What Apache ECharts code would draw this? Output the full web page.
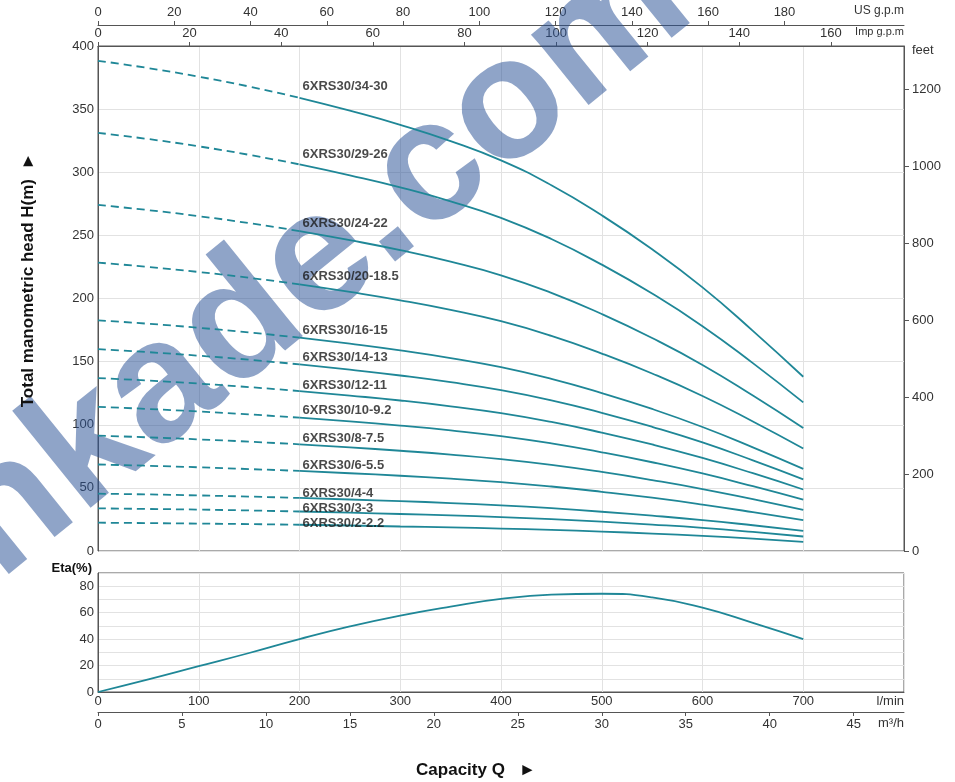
<!DOCTYPE html>
<html><head><meta charset="utf-8">
<script src="https://cdn.jsdelivr.net/npm/echarts@6/dist/echarts.min.js"></script>
<style>html,body{margin:0;padding:0;background:#fff}#c{width:955px;height:782px}</style>
</head><body><div id="c"></div>
<script>
// ---------- data ----------
const flowLpm = [0, 50, 100, 150, 200, 250, 300, 350, 400, 450, 500, 550, 600, 650, 700];
const models = ['6XRS30/34-30', '6XRS30/29-26', '6XRS30/24-22', '6XRS30/20-18.5', '6XRS30/16-15', '6XRS30/14-13',
  '6XRS30/12-11', '6XRS30/10-9.2', '6XRS30/8-7.5', '6XRS30/6-5.5', '6XRS30/4-4', '6XRS30/3-3', '6XRS30/2-2.2'];
const head34 = [388.3, 382.5, 375.7, 367.9, 359.0, 348.8, 337.6, 324.7, 309.4, 289.7, 265.9, 239.0, 208.8, 174.4, 138.0];
const head29 = [331.2, 326.3, 320.5, 313.8, 306.2, 297.5, 288.0, 277.0, 263.9, 247.1, 226.8, 203.9, 178.1, 148.8, 117.7];
const head24 = [274.1, 270.0, 265.2, 259.7, 253.4, 246.2, 238.3, 229.2, 218.4, 204.5, 187.7, 168.7, 147.4, 123.1, 97.4];
const head20 = [228.4, 225.0, 221.0, 216.4, 211.2, 205.2, 198.6, 191.0, 182.0, 170.4, 156.4, 140.6, 122.8, 102.6, 81.2];
const head16 = [182.7, 180.0, 176.8, 173.1, 169.0, 164.2, 158.9, 152.8, 145.6, 136.3, 125.1, 112.5, 98.2, 82.1, 65.0];
const head14 = [159.9, 157.5, 154.7, 151.5, 147.8, 143.6, 139.0, 133.7, 127.4, 119.3, 109.5, 98.4, 86.0, 71.8, 56.8];
const head12 = [137.0, 135.0, 132.6, 129.8, 126.7, 123.1, 119.2, 114.6, 109.2, 102.2, 93.8, 84.4, 73.7, 61.6, 48.7];
const head10 = [114.2, 112.5, 110.5, 108.2, 105.6, 102.6, 99.3, 95.5, 91.0, 85.2, 78.2, 70.3, 61.4, 51.3, 40.6];
const head8  = [91.4, 90.0, 88.4, 86.6, 84.5, 82.1, 79.4, 76.4, 72.8, 68.2, 62.6, 56.2, 49.1, 41.0, 32.5];
const head6  = [68.5, 67.5, 66.3, 64.9, 63.4, 61.6, 59.6, 57.3, 54.6, 51.1, 46.9, 42.2, 36.8, 30.8, 24.4];
const head4  = [45.4, 44.8, 44.0, 43.1, 42.0, 40.8, 39.5, 38.0, 36.2, 33.9, 31.1, 28.0, 24.5, 20.4, 16.0];
const head3  = [33.8, 33.3, 32.8, 32.1, 31.3, 30.4, 29.3, 28.2, 26.9, 25.2, 23.2, 20.9, 18.3, 15.1, 11.5];
const head2  = [22.4, 22.1, 21.7, 21.3, 20.8, 20.2, 19.4, 18.7, 17.8, 16.7, 15.4, 13.8, 12.0, 9.8, 7.2];
const etaPct = [0, 9.5, 19.5, 29.5, 40, 49.6, 57.8, 64.6, 70.4, 73.6, 74.3, 71.6, 63.8, 52.3, 40];
const dashedUntilLpm = 200;
const headTicksM = [0, 50, 100, 150, 200, 250, 300, 350, 400];
const feetTicks = [0, 200, 400, 600, 800, 1000, 1200];
const usGpmTicks = [0, 20, 40, 60, 80, 100, 120, 140, 160, 180];
const impGpmTicks = [0, 20, 40, 60, 80, 100, 120, 140, 160];
const lpmTicks = [0, 100, 200, 300, 400, 500, 600, 700];
const m3hTicks = [0, 5, 10, 15, 20, 25, 30, 35, 40, 45];
const etaLabelTicks = [0, 20, 40, 60, 80];

// ---------- styling / layout ----------
const heads = [head34, head29, head24, head20, head16, head14, head12, head10, head8, head6, head4, head3, head2];
const labelDy = [-11, -10, -8, -8, -7, -7, -6, -7, -6, -6, -5, -3, -1];
const LINE = '#1f8797';
const AX = '#555';
const TXT = '#333';
const FONT = '"Liberation Sans", Arial, sans-serif';
const Q_MAX = 800, H_MAX = 400, ETA_MAX = 90;
const SMOOTH = 0.5;

const series = [];
heads.forEach((h, i) => {
  const dashed = [], solid = [];
  flowLpm.forEach((q, k) => {
    if (q <= dashedUntilLpm) dashed.push([q, h[k]]);
    if (q >= dashedUntilLpm) solid.push([q, h[k]]);
  });
  series.push({
    type: 'line', xAxisIndex: 0, yAxisIndex: 0, data: dashed, smooth: SMOOTH, symbol: 'none',
    lineStyle: { color: LINE, width: 1.8, type: [8, 5] }, silent: true, z: 3
  });
  series.push({
    type: 'line', xAxisIndex: 0, yAxisIndex: 0, data: solid, smooth: SMOOTH, symbol: 'none',
    lineStyle: { color: LINE, width: 1.8 }, silent: true, z: 3
  });
  series.push({
    type: 'scatter', xAxisIndex: 0, yAxisIndex: 0, data: [solid[0]], symbolSize: 0.01, silent: true, z: 5,
    itemStyle: { color: 'transparent' },
    label: { show: true, position: 'right', distance: 3, offset: [0, labelDy[i]], formatter: models[i],
      fontWeight: 'bold', fontSize: 13, color: '#1a1a1a', fontFamily: FONT }
  });
});
series.push({
  type: 'line', xAxisIndex: 3, yAxisIndex: 2, data: flowLpm.map((q, k) => [q, etaPct[k]]),
  smooth: SMOOTH, symbol: 'none', lineStyle: { color: LINE, width: 1.8 }, silent: true, z: 3
});

const lbl = { color: TXT, fontSize: 13, fontFamily: FONT, formatter: v => String(Math.round(v)) };
const grey = { show: true, lineStyle: { color: '#e2e2e2', width: 1 } };
const axLine = { show: true, onZero: false, lineStyle: { color: AX } };
const ticks = (vals, len) => ({ show: true, length: len, customValues: vals, lineStyle: { color: AX } });
const labels = (vals, margin) => Object.assign({ customValues: vals, margin: margin }, lbl);
const option = {
  animation: false,
  backgroundColor: '#fff',
  textStyle: { fontFamily: FONT },
  grid: [
    { left: 98, top: 46, width: 806, height: 505, show: true, borderColor: AX, borderWidth: 1, backgroundColor: 'transparent' },
    { left: 98, top: 573, width: 806, height: 119, show: true, borderColor: AX, borderWidth: 1, backgroundColor: 'transparent' }
  ],
  xAxis: [
    { gridIndex: 0, type: 'value', min: 0, max: Q_MAX, interval: 100, position: 'bottom',
      axisLine: { show: false, onZero: false }, axisTick: { show: false }, axisLabel: { show: false }, splitLine: grey },
    { gridIndex: 0, type: 'value', min: 0, max: Q_MAX / 4.54609, position: 'top',
      axisLine: axLine, axisTick: ticks(impGpmTicks, 4), axisLabel: labels(impGpmTicks, 6), splitLine: { show: false } },
    { gridIndex: 0, type: 'value', min: 0, max: Q_MAX / 3.78541, position: 'top', offset: 21,
      axisLine: axLine, axisTick: ticks(usGpmTicks, 4), axisLabel: labels(usGpmTicks, 6), splitLine: { show: false } },
    { gridIndex: 1, type: 'value', min: 0, max: Q_MAX, interval: 100, position: 'bottom',
      axisLine: axLine, axisTick: { show: false }, axisLabel: labels(lpmTicks, 3), splitLine: grey },
    { gridIndex: 1, type: 'value', min: 0, max: Q_MAX * 60 / 1000, position: 'bottom', offset: 20,
      axisLine: axLine, axisTick: ticks(m3hTicks, 4), axisLabel: labels(m3hTicks, 6), splitLine: { show: false } }
  ],
  yAxis: [
    { gridIndex: 0, type: 'value', min: 0, max: H_MAX, interval: 50, position: 'left',
      axisLine: axLine, axisTick: { show: false }, axisLabel: labels(headTicksM, 4), splitLine: grey },
    { gridIndex: 0, type: 'value', min: 0, max: H_MAX / 0.3048, position: 'right',
      axisLine: axLine, axisTick: ticks(feetTicks, 5), axisLabel: labels(feetTicks, 8), splitLine: { show: false } },
    { gridIndex: 1, type: 'value', min: 0, max: ETA_MAX, interval: 10, position: 'left',
      axisLine: axLine, axisTick: { show: false }, axisLabel: labels(etaLabelTicks, 4), splitLine: grey }
  ],
  graphic: [
    { type: 'text', x: 319, y: 262, rotation: 0.68, z: 1, silent: true,
      style: { text: 'nkade.com', font: 'bold 172px "Liberation Sans", Arial, sans-serif', fill: '#285096',
        opacity: 0.52, textAlign: 'center', textVerticalAlign: 'middle' } },
    { type: 'text', x: 28, y: 280, rotation: Math.PI / 2, z: 10,
      style: { text: 'Total manometric head H(m)  \u25BA', font: 'bold 17px ' + FONT, fill: '#111',
        textAlign: 'center', textVerticalAlign: 'middle' } },
    { type: 'text', x: 476, y: 770, z: 10,
      style: { text: 'Capacity Q   \u25BA', font: 'bold 17px ' + FONT, fill: '#111',
        textAlign: 'center', textVerticalAlign: 'middle' } },
    { type: 'text', x: 904, y: 11, z: 10,
      style: { text: 'US g.p.m', font: '12px ' + FONT, fill: TXT, textAlign: 'right', textVerticalAlign: 'middle' } },
    { type: 'text', x: 904, y: 32, z: 10,
      style: { text: 'Imp g.p.m', font: '11px ' + FONT, fill: TXT, textAlign: 'right', textVerticalAlign: 'middle' } },
    { type: 'text', x: 912, y: 50, z: 10,
      style: { text: 'feet', font: '13px ' + FONT, fill: TXT, textAlign: 'left', textVerticalAlign: 'middle' } },
    { type: 'text', x: 904, y: 701, z: 10,
      style: { text: 'l/min', font: '13px ' + FONT, fill: TXT, textAlign: 'right', textVerticalAlign: 'middle' } },
    { type: 'text', x: 904, y: 723, z: 10,
      style: { text: 'm\u00B3/h', font: '13px ' + FONT, fill: TXT, textAlign: 'right', textVerticalAlign: 'middle' } },
    { type: 'text', x: 92, y: 568, z: 10,
      style: { text: 'Eta(%)', font: 'bold 13px ' + FONT, fill: '#111', textAlign: 'right', textVerticalAlign: 'middle' } }
  ],
  series: series
};
const chart = echarts.init(document.getElementById('c'), null, { renderer: 'canvas' });
chart.setOption(option);
</script></body></html>
